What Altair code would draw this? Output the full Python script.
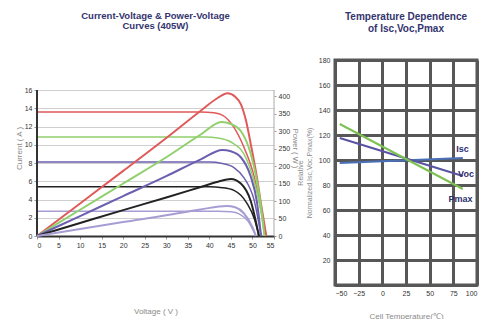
import altair as alt
import pandas as pd

# ---------------- Left chart data (I-V and P-V curves) ----------------
series_names = ["1000", "800", "600", "400", "200"]
series_colors = ["#e05a5a", "#8fd06c", "#6b5fb0", "#222222", "#a89dd3"]

# I-V curves (voltage, current)
iv_v_1000 = [0, 38, 41, 43, 45.7, 48, 50.4, 52, 53.2]
iv_i_1000 = [13.6, 13.6, 13.5, 13.25, 11.9, 9.75, 6.5, 2.8, 0]
iv_v_800 = [0, 39, 42, 45, 48, 50.4, 52, 52.8]
iv_i_800 = [10.85, 10.85, 10.75, 10.3, 9.0, 6.0, 2.6, 0]
iv_v_600 = [0, 40, 43, 45.7, 48, 50.4, 52]
iv_i_600 = [8.1, 8.1, 7.95, 7.5, 6.4, 3.9, 0]
iv_v_400 = [0, 40, 43, 45.7, 48.7, 50.5, 51.5]
iv_i_400 = [5.4, 5.4, 5.3, 5.0, 3.6, 1.8, 0]
iv_v_200 = [0, 42, 45, 47, 49, 50.8]
iv_i_200 = [2.7, 2.7, 2.65, 2.4, 1.6, 0]

# P-V curves (voltage, power)
pv_v_1000 = [0, 10, 20, 30, 38, 42, 44.2, 46, 47.3, 48.5, 49.6, 51, 52, 53.2]
pv_p_1000 = [0, 93, 186, 280, 358, 395, 408, 398, 377, 330, 263, 170, 91, 0]
pv_v_800 = [0, 10, 20, 30, 38, 42.8, 45, 47.3, 49.6, 51, 52, 52.8]
pv_p_800 = [0, 75, 150, 225, 290, 326, 320, 300, 235, 160, 83, 0]
pv_v_600 = [0, 10, 20, 30, 38, 43, 45, 47.3, 49.6, 51, 52]
pv_p_600 = [0, 57, 114, 171, 219, 246, 242, 225, 170, 100, 0]
pv_v_400 = [0, 10, 20, 30, 38, 42, 45, 47.3, 49.6, 51.5]
pv_p_400 = [0, 37, 74, 110, 140, 155, 163, 150, 100, 0]
pv_v_200 = [0, 10, 20, 30, 38, 44, 46, 48, 50, 50.8]
pv_p_200 = [0, 20, 40, 59, 76, 86, 82, 65, 25, 0]

x_ticks_left = list(range(0, 56, 5))
i_ticks = list(range(0, 17, 2))
p_ticks = list(range(0, 401, 50))

# ---------------- Right chart data (temperature dependence) ----------------
temp_names = ["Isc", "Voc", "Pmax"]
temp_colors = ["#4a70b8", "#5a53a3", "#7cc152"]
temp_x = [-45, 85]
isc_vals = [97.6, 101.6]
voc_vals = [117.6, 87.2]
pmax_vals = [128.8, 76.8]
label_x = [78, 80, 70]
label_y = [108.8, 88.8, 68.8]
t_ticks = list(range(-50, 101, 25))
n_ticks = list(range(0, 181, 20))

# ---------------- Build tables ----------------
iv_sets = [(iv_v_1000, iv_i_1000), (iv_v_800, iv_i_800), (iv_v_600, iv_i_600),
           (iv_v_400, iv_i_400), (iv_v_200, iv_i_200)]
pv_sets = [(pv_v_1000, pv_p_1000), (pv_v_800, pv_p_800), (pv_v_600, pv_p_600),
           (pv_v_400, pv_p_400), (pv_v_200, pv_p_200)]
iv_rows, pv_rows = [], []
for name, (vs, cs) in zip(series_names, iv_sets):
    for k, (v, c) in enumerate(zip(vs, cs)):
        iv_rows.append({"V": v, "I": c, "s": name, "o": k})
for name, (vs, ps) in zip(series_names, pv_sets):
    for k, (v, p) in enumerate(zip(vs, ps)):
        pv_rows.append({"V": v, "P": p, "s": name, "o": k})
iv_df = pd.DataFrame(iv_rows)
pv_df = pd.DataFrame(pv_rows)

t_rows = []
for name, vals in zip(temp_names, [isc_vals, voc_vals, pmax_vals]):
    for t, v in zip(temp_x, vals):
        t_rows.append({"T": t, "N": v, "q": name})
t_df = pd.DataFrame(t_rows)
lab_df = pd.DataFrame({"T": label_x, "N": label_y, "txt": temp_names})

# frame lines of the I-V plot area (left dark, right grey)
frame_left = pd.DataFrame({"V": [x_ticks_left[0]], "I": [i_ticks[0]], "I2": [i_ticks[-1]]})
frame_right = pd.DataFrame({"V": [x_ticks_left[-1]], "I": [i_ticks[0]], "I2": [i_ticks[-1]]})

FONT = "Liberation Sans"
LBL = "#333333"
TTL = "#8a8a8a"

# the left plot area is taller than the drawn frame so that it sits lower than the right one
LEFT_H = 176
FRAME_H = 146
I_TOP = i_ticks[-1] * LEFT_H / FRAME_H
P_TOP = 400 * LEFT_H / 140

color_left = alt.Color("s:N", scale=alt.Scale(domain=series_names, range=series_colors), legend=None)

x_left = alt.X("V:Q", scale=alt.Scale(domain=[0, 55], nice=False),
               axis=alt.Axis(values=x_ticks_left, title="Voltage ( V )", grid=False,
                             domainColor="#333333", domainWidth=2, tickSize=3,
                             tickColor="#999999", labelFontSize=7, labelColor=LBL,
                             labelPadding=2, labelOverlap=False, titleFontSize=8,
                             titleFontWeight="normal", titleColor=TTL, titlePadding=59))

y_current = alt.Y("I:Q", scale=alt.Scale(domain=[0, I_TOP], nice=False),
                  axis=alt.Axis(values=i_ticks, title="Current ( A )", orient="left", grid=True,
                                gridColor="#cfcfcf", domain=False,
                                tickSize=3, tickColor="#999999", labelFontSize=7, labelColor=LBL,
                                labelPadding=2, labelOverlap=False, titleFontSize=8,
                                titleFontWeight="normal", titleColor=TTL, titlePadding=1))

current_lines = alt.Chart(iv_df).mark_line(strokeWidth=1.5, interpolate="monotone").encode(
    x=x_left, y=y_current, color=color_left, order="o:Q")
rule_l = alt.Chart(frame_left).mark_rule(color="#333333", strokeWidth=2).encode(
    x=x_left, y=y_current, y2="I2:Q")
rule_r = alt.Chart(frame_right).mark_rule(color="#aaaaaa", strokeWidth=1).encode(
    x=x_left, y=y_current, y2="I2:Q")
current_block = alt.layer(current_lines, rule_r, rule_l)

power_layer = alt.Chart(pv_df).mark_line(strokeWidth=2, interpolate="monotone").encode(
    x=x_left,
    y=alt.Y("P:Q", scale=alt.Scale(domain=[0, P_TOP], nice=False),
            axis=alt.Axis(values=p_ticks, title="Power ( W )", orient="right", grid=False,
                          domain=False, tickSize=2,
                          tickColor="#999999", labelFontSize=7, labelColor=LBL,
                          labelPadding=2, labelOverlap=False, titleFontSize=7.5,
                          titleFontWeight="normal", titleColor=TTL, titlePadding=1)),
    color=color_left,
    order="o:Q",
)

left = alt.layer(current_block, power_layer).resolve_scale(y="independent").properties(
    width=237, height=LEFT_H,
    title=alt.TitleParams(["Current-Voltage & Power-Voltage", "Curves (405W)"],
                          fontSize=9.5, fontWeight="bold", color="#34346e", offset=30,
                          lineHeight=10, anchor="middle"),
    view=alt.ViewBackground(strokeWidth=0),
)

color_right = alt.Color("q:N", scale=alt.Scale(domain=temp_names, range=temp_colors), legend=None)

x_right = alt.X("T:Q", scale=alt.Scale(domain=[-50, 100], nice=False),
                axis=alt.Axis(values=t_ticks, title="Cell Temperature(\u2103)", grid=True,
                              gridColor="#575757", gridWidth=3, domainColor="#575757",
                              domainWidth=3, tickSize=0, labelFontSize=7, labelColor=LBL,
                              labelPadding=4, labelOverlap=False, titleFontSize=8,
                              titleFontWeight="normal", titleColor=TTL, titlePadding=16))
y_right = alt.Y("N:Q", scale=alt.Scale(domain=[0, 180], nice=False),
                axis=alt.Axis(values=n_ticks, title=["Relative", "Normalized Isc,Voc,Pmax(%)"],
                              grid=True, gridColor="#575757", gridWidth=3,
                              domainColor="#575757", domainWidth=3, tickSize=0,
                              labelExpr="datum.value == 0 ? '' : datum.label",
                              labelFontSize=7, labelColor=LBL, labelPadding=5,
                              labelOverlap=False, titleFontSize=7, titleFontWeight="normal",
                              titleColor=TTL, titlePadding=6))

temp_lines = alt.Chart(t_df).mark_line(strokeWidth=2).encode(
    x=x_right, y=y_right, color=color_right)
temp_labels = alt.Chart(lab_df).mark_text(align="left", baseline="middle", fontSize=9,
                                          fontWeight="bold", color="#2e2e6e").encode(
    x=x_right, y=y_right, text="txt:N")

right = alt.layer(temp_lines, temp_labels).properties(
    width=142, height=225,
    title=alt.TitleParams(["Temperature Dependence", "of Isc,Voc,Pmax"],
                          fontSize=10, fontWeight="bold", color="#34346e", offset=22,
                          lineHeight=12, anchor="middle"),
    view=alt.ViewBackground(stroke="#575757", strokeWidth=3),
)

chart = alt.hconcat(left, right, spacing=-5).resolve_scale(color="independent").configure(
    font=FONT, padding={"left": 7, "top": 2, "right": 0, "bottom": -3}
)

chart.save("out.html", embed_options={"renderer": "svg", "actions": False})
